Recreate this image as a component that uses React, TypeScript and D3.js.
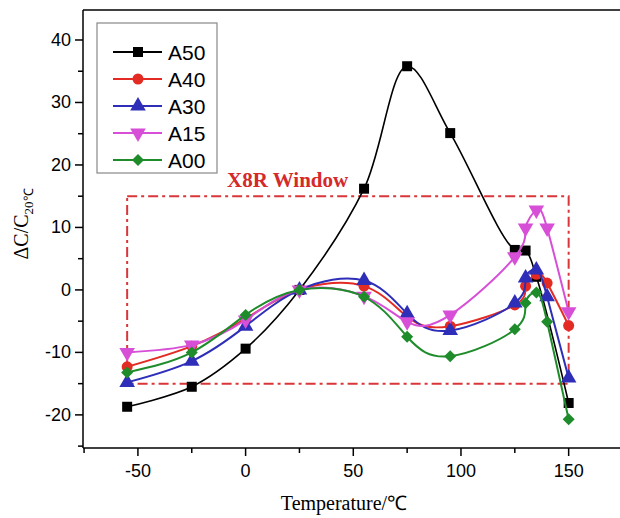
import React from "react";
import * as d3 from "d3";

const temps = [-55, -25, 0, 25, 55, 75, 95, 125, 130, 135, 140, 150];
const tempsA50 = [-55, -25, 0, 25, 55, 75, 95, 125, 130, 135, 150];
const a50 = [-18.7, -15.5, -9.4, 0, 16.2, 35.8, 25.1, 6.4, 6.3, 2.1, -18.1];
const a40 = [-12.3, -9.0, -4.6, 0, 0.6, -4.3, -5.8, -2.4, 0.6, 2.5, 1.1, -5.7];
const a30 = [-14.8, -11.4, -5.8, 0, 1.5, -3.8, -6.5, -2.1, 1.9, 3.2, -1.1, -14.1];
const a15 = [-10.0, -8.8, -4.8, 0, -1.0, -5.1, -4.0, 5.3, 9.9, 12.8, 9.9, -3.5];
const a00 = [-13.2, -10.0, -4.0, 0, -1.1, -7.5, -10.6, -6.3, -2.1, -0.4, -5.1, -20.7];

const seriesNames = ["A50", "A40", "A30", "A15", "A00"];
const seriesColors = ["#000000", "#e32b24", "#2e2eb8", "#d64fd6", "#1e8c2a"];
const seriesMarkers = ["square", "circle", "triangle", "triangleDown", "diamond"];

const xTicks = [-50, 0, 50, 100, 150];
const xMinorTicks = [-75, -25, 25, 75, 125, 175];
const yTicks = [-20, -10, 0, 10, 20, 30, 40];
const yMinorTicks = [-25, -15, -5, 5, 15, 25, 35];
const windowX = [-55, 150];
const windowY = [-15, 15];

const W = 620;
const H = 518;

function markerPath(kind: string) {
  if (kind === "square") return d3.symbol(d3.symbolSquare, 100)()!;
  if (kind === "circle") return d3.symbol(d3.symbolCircle, 95)()!;
  if (kind === "triangle") return d3.symbol(d3.symbolTriangle, 105)()!;
  if (kind === "triangleDown") return d3.symbol(d3.symbolTriangle, 105)()!;
  return d3.symbol(d3.symbolSquare, 72)()!;
}
function markerRot(kind: string) {
  if (kind === "triangleDown") return 180;
  if (kind === "diamond") return 45;
  return 0;
}

export default function App() {
  const x = d3.scaleLinear().domain([-75.5, 175]).range([83, 622.5]);
  const y = d3.scaleLinear().domain([-25.3, 44.8]).range([448, 10]);
  const all = [a50, a40, a30, a15, a00];
  const lineNatural = d3
    .line<[number, number]>()
    .x((d) => x(d[0]))
    .y((d) => y(d[1]))
    .curve(d3.curveNatural);
  const lineCR = d3
    .line<[number, number]>()
    .x((d) => x(d[0]))
    .y((d) => y(d[1]))
    .curve(d3.curveCatmullRom.alpha(0.5));

  const sans = "'Liberation Sans', Arial, sans-serif";
  const serif = "'Liberation Serif', 'Times New Roman', serif";

  return (
    <svg
      width={W}
      height={H}
      style={{ position: "absolute", left: 0, top: 0, background: "#fff" }}
    >
      {/* window */}
      <rect
        x={x(windowX[0])}
        y={y(windowY[1])}
        width={x(windowX[1]) - x(windowX[0])}
        height={y(windowY[0]) - y(windowY[1])}
        fill="none"
        stroke="#d9363a"
        strokeWidth={2}
        strokeDasharray="10 4 3 4"
      />
      <text
        x={227}
        y={187}
        fill="#d42a2a"
        fontFamily={serif}
        fontWeight="bold"
        fontSize={21}
      >
        X8R Window
      </text>

      {/* series */}
      {all.map((vals, i) => {
        const ts = i === 0 ? tempsA50 : temps;
        const pts: [number, number][] = ts.map((t, j) => [t, vals[j]]);
        const gen = i === 0 ? lineCR : lineNatural;
        return (
          <g key={seriesNames[i]}>
            <path
              d={gen(pts)!}
              fill="none"
              stroke={seriesColors[i]}
              strokeWidth={i === 0 ? 1.6 : 2}
            />
            {pts.map((p, j) => (
              <path
                key={j}
                d={markerPath(seriesMarkers[i])}
                transform={`translate(${x(p[0])},${y(p[1])}) rotate(${markerRot(
                  seriesMarkers[i]
                )})`}
                fill={seriesColors[i]}
              />
            ))}
          </g>
        );
      })}

      {/* axes */}
      <line x1={83} y1={448} x2={W} y2={448} stroke="#000" strokeWidth={1.5} />
      <line x1={83} y1={10} x2={W} y2={10} stroke="#000" strokeWidth={1.5} />
      <line x1={83} y1={10} x2={83} y2={448} stroke="#000" strokeWidth={1.5} />
      {xTicks.map((t) => (
        <g key={t}>
          <line x1={x(t)} x2={x(t)} y1={448} y2={456} stroke="#000" strokeWidth={1.5} />
          <text
            x={x(t)}
            y={477}
            textAnchor="middle"
            fontFamily={sans}
            fontSize={18}
          >
            {t}
          </text>
        </g>
      ))}
      {xMinorTicks.map((t) => (
        <line key={t} x1={x(t)} x2={x(t)} y1={448} y2={453} stroke="#000" strokeWidth={1.5} />
      ))}
      {yTicks.map((t) => (
        <g key={t}>
          <line x1={75} x2={83} y1={y(t)} y2={y(t)} stroke="#000" strokeWidth={1.5} />
          <text
            x={71}
            y={y(t) + 6}
            textAnchor="end"
            fontFamily={sans}
            fontSize={18}
          >
            {t}
          </text>
        </g>
      ))}
      {yMinorTicks.map((t) => (
        <line key={t} x1={78} x2={83} y1={y(t)} y2={y(t)} stroke="#000" strokeWidth={1.5} />
      ))}

      {/* axis labels */}
      <text
        x={344}
        y={510}
        textAnchor="middle"
        fontFamily={serif}
        fontSize={20}
      >
        Temperature/℃
      </text>
      <text
        transform="translate(28,224) rotate(-90)"
        textAnchor="middle"
        fontFamily={serif}
        fontSize={20}
      >
        ΔC/C
        <tspan fontSize={13} dy={5}>
          20℃
        </tspan>
      </text>

      {/* legend */}
      <rect x={97} y={23} width={120} height={150} fill="#fff" stroke="#888" strokeWidth={1.2} />
      {seriesNames.map((n, i) => {
        const ly = 52 + i * 27;
        return (
          <g key={n}>
            <line x1={113} x2={162} y1={ly} y2={ly} stroke={seriesColors[i]} strokeWidth={2} />
            <path
              d={markerPath(seriesMarkers[i])}
              transform={`translate(138,${ly}) rotate(${markerRot(seriesMarkers[i])})`}
              fill={seriesColors[i]}
            />
            <text x={168} y={ly + 7.5} fontFamily={sans} fontSize={21}>
              {n}
            </text>
          </g>
        );
      })}
    </svg>
  );
}
